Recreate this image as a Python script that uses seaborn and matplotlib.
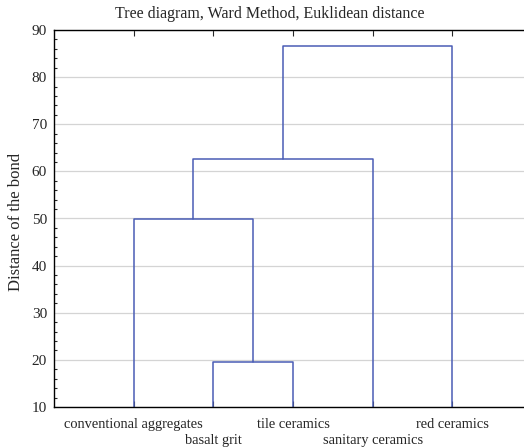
import matplotlib
matplotlib.use("Agg")
import matplotlib.pyplot as plt
import seaborn as sns
import pandas as pd
from matplotlib.ticker import MultipleLocator

# Leaves in dendrogram order
leaves = ["conventional aggregates", "basalt grit", "tile ceramics",
          "sanitary ceramics", "red ceramics"]
# Merges: (left cluster id, right cluster id, bond distance); new ids start at len(leaves)
merge_left = [1, 0, 6, 7]
merge_right = [2, 5, 3, 4]
merge_height = [19.5, 49.9, 62.7, 86.5]

title = "Tree diagram, Ward Method, Euklidean distance"
ylabel = "Distance of the bond"

sns.set_style("white")
plt.rcParams["font.family"] = ["Liberation Serif", "DejaVu Serif"]

# Build segment table from linkage
pos = {i: (i + 1, 0.0) for i in range(len(leaves))}
rows = []
seg = 0
for k, (a, b, h) in enumerate(zip(merge_left, merge_right, merge_height)):
    xa, ya = pos[a]
    xb, yb = pos[b]
    for x, y in [(xa, ya), (xa, h), (xb, h), (xb, yb)]:
        rows.append({"x": x, "y": y, "seg": seg})
    seg += 1
    pos[len(leaves) + k] = ((xa + xb) / 2, h)
df = pd.DataFrame(rows)

fig = plt.figure(figsize=(5.24, 4.48), dpi=100)
ax = fig.add_axes([54 / 524, 41 / 448, 478 / 524, 377 / 448])

ax.set_axisbelow(True)
ax.grid(axis="y", color="#d4d4d4", linewidth=0.9)
sns.lineplot(data=df, x="x", y="y", units="seg", estimator=None, sort=False,
             color="#4a5db5", linewidth=1.1, ax=ax, legend=False)

ax.set_xlim(0, len(leaves) + 1)
ax.set_ylim(10, 90)
ax.yaxis.set_major_locator(MultipleLocator(10))
ax.yaxis.set_minor_locator(MultipleLocator(2))

# Staggered leaf labels: odd leaves on the first row, even on the second
row1 = list(range(0, len(leaves), 2))
row2 = list(range(1, len(leaves), 2))
ax.set_xticks([i + 1 for i in row1])
ax.set_xticklabels([leaves[i] for i in row1])
ax.set_xticks([i + 1 for i in row2], minor=True)
ax.set_xticklabels([leaves[i] for i in row2], minor=True)
ax.tick_params(axis="x", which="major", direction="in", length=4, top=True,
               bottom=True, labelsize=10.4, pad=8, width=0.8)
ax.tick_params(axis="x", which="minor", direction="in", length=4, top=True,
               bottom=True, labelsize=10.4, pad=19.5, width=0.8)
ax.tick_params(axis="y", which="major", direction="in", length=4, labelsize=11,
               width=0.8, pad=5)
ax.tick_params(axis="y", which="minor", direction="in", length=2, left=True, width=0.8)
for s in ["left", "top", "bottom"]:
    ax.spines[s].set_color("black")
    ax.spines[s].set_linewidth(1.0)
ax.spines["right"].set_visible(False)

ax.set_xlabel("")
ax.set_ylabel(ylabel, fontsize=12)
ax.yaxis.set_label_coords(-30 / 478, (407 - 222) / 377)
fig.text(270 / 524, 1 - 14 / 448, title, fontsize=11.5, ha="center", va="center")

fig.savefig("out.png", dpi=100)
